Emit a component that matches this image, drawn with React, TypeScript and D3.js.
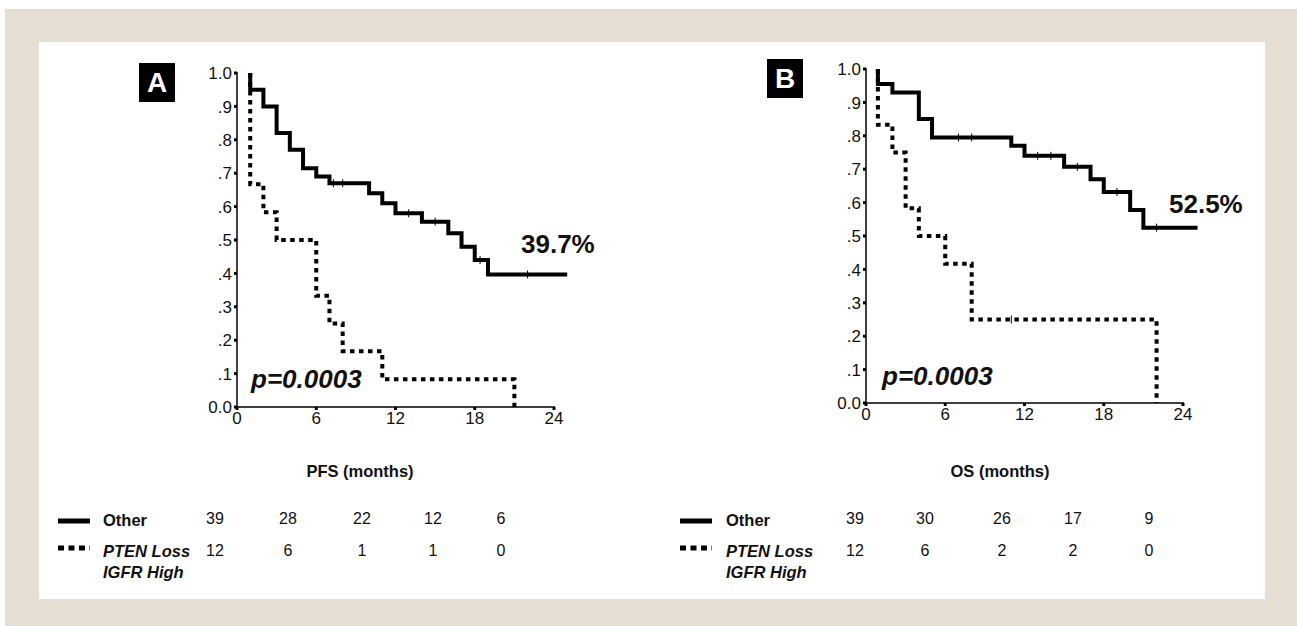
import React from "react";
import * as d3 from "d3";

// ---------- DATA ----------
const yTickValues = [0, 0.1, 0.2, 0.3, 0.4, 0.5, 0.6, 0.7, 0.8, 0.9, 1.0];
const yTickLabels = ["0.0", ".1", ".2", ".3", ".4", ".5", ".6", ".7", ".8", ".9", "1.0"];
const xTickValues = [0, 6, 12, 18, 24];

// Panel A – PFS
const pfsOtherTimes = [1, 1, 2, 3, 4, 5, 6, 7, 10, 11, 12, 14, 16, 17, 18, 19, 25];
const pfsOtherSurv = [1.0, 0.95, 0.9, 0.82, 0.77, 0.715, 0.69, 0.67, 0.64, 0.61, 0.58, 0.555, 0.52, 0.48, 0.44, 0.397, 0.397];
const pfsOtherCensor = [7.3, 8, 13, 15, 18.4, 22];
const pfsPtenTimes = [1, 1, 2, 3, 6, 7, 8, 11, 21, 21];
const pfsPtenSurv = [1.0, 0.667, 0.583, 0.5, 0.333, 0.25, 0.167, 0.083, 0.083, 0];
const pfsPtenCensor: number[] = [];
const pfsRiskOther = ["39", "28", "22", "12", "6"];
const pfsRiskPten = ["12", "6", "1", "1", "0"];

// Panel B – OS
const osOtherTimes = [0.9, 0.9, 2, 4, 5, 11, 12, 15, 17, 18, 20, 21, 25.1];
const osOtherSurv = [1.0, 0.955, 0.93, 0.85, 0.795, 0.77, 0.74, 0.707, 0.67, 0.632, 0.578, 0.525, 0.525];
const osOtherCensor = [7, 8, 13, 14, 16, 19, 22];
const osPtenTimes = [0.9, 0.9, 2, 3, 4, 6, 8, 22, 22];
const osPtenSurv = [1.0, 0.833, 0.75, 0.583, 0.5, 0.417, 0.25, 0.25, 0];
const osPtenCensor = [11];
const osRiskOther = ["39", "30", "26", "17", "9"];
const osRiskPten = ["12", "6", "2", "2", "0"];

const FONT = "'Liberation Sans', Arial, Helvetica, sans-serif";

type PanelProps = {
  letter: string;
  xRange: [number, number];
  yRange: [number, number];
  box: { x: number; y: number };
  otherT: number[];
  otherS: number[];
  otherC: number[];
  ptenT: number[];
  ptenS: number[];
  ptenC: number[];
  pct: string;
  pctPos: { x: number; y: number };
  pPos: { x: number; y: number };
  xLabel: string;
  xLabelX: number;
  riskOther: string[];
  riskPten: string[];
  riskX: number[];
  legendX: number;
  legendTextX: number;
};

function stepValue(t: number[], s: number[], x: number) {
  let v = s[0];
  for (let i = 0; i < t.length; i++) {
    if (t[i] <= x) v = s[i];
  }
  return v;
}

function Panel(p: PanelProps) {
  const x = d3.scaleLinear().domain([0, 24]).range(p.xRange);
  const y = d3.scaleLinear().domain([0, 1]).range(p.yRange);
  const line = d3
    .line<[number, number]>()
    .x((d) => x(d[0]))
    .y((d) => y(d[1]))
    .curve(d3.curveStepAfter);
  const otherPts = p.otherT.map((t, i) => [t, p.otherS[i]] as [number, number]);
  const ptenPts = p.ptenT.map((t, i) => [t, p.ptenS[i]] as [number, number]);
  const y0 = y(0);
  const x0 = x(0);
  return (
    <g>
      {/* letter box */}
      <rect x={p.box.x} y={p.box.y} width={36} height={39} fill="#000" />
      <text x={p.box.x + 18} y={p.box.y + 29} textAnchor="middle" fill="#fff" fontFamily={FONT} fontWeight="bold" fontSize={28}>
        {p.letter}
      </text>
      {/* axes */}
      <line x1={x0} x2={x0} y1={y(1) - 1} y2={y0} stroke="#000" strokeWidth={1.5} />
      <line x1={x0} x2={x(24) + 1} y1={y0} y2={y0} stroke="#000" strokeWidth={1.5} />
      {yTickValues.map((v, i) => (
        <g key={"yt" + i}>
          <rect x={x0 - 3} y={y(v) - 1.5} width={3} height={3} fill="#000" />
          <text x={x0 - 5} y={y(v)} dy="0.36em" textAnchor="end" fontFamily={FONT} fontSize={17} fill="#111">
            {yTickLabels[i]}
          </text>
        </g>
      ))}
      {xTickValues.map((v) => (
        <g key={"xt" + v}>
          <rect x={x(v) - 1.5} y={y0} width={3} height={3} fill="#000" />
          <text x={x(v)} y={y0 + 17} textAnchor="middle" fontFamily={FONT} fontSize={17} fill="#111">
            {v}
          </text>
        </g>
      ))}
      {/* curves */}
      <path d={line(otherPts) || ""} fill="none" stroke="#000" strokeWidth={4} strokeLinejoin="miter" />
      <path d={line(ptenPts) || ""} fill="none" stroke="#000" strokeWidth={4} strokeDasharray="4.5 4.5" />
      {p.otherC.map((c, i) => {
        const yy = y(stepValue(p.otherT, p.otherS, c));
        return <line key={"oc" + i} x1={x(c)} x2={x(c)} y1={yy - 4} y2={yy + 4} stroke="#000" strokeWidth={1} />;
      })}
      {p.ptenC.map((c, i) => {
        const yy = y(stepValue(p.ptenT, p.ptenS, c));
        return <line key={"pc" + i} x1={x(c)} x2={x(c)} y1={yy - 4} y2={yy + 4} stroke="#000" strokeWidth={1} />;
      })}
      {/* annotations */}
      <text x={p.pctPos.x} y={p.pctPos.y} fontFamily={FONT} fontWeight="bold" fontSize={26} fill="#111">
        {p.pct}
      </text>
      <text x={p.pPos.x} y={p.pPos.y} fontFamily={FONT} fontWeight="bold" fontStyle="italic" fontSize={26} fill="#111">
        p=0.0003
      </text>
      <text x={p.xLabelX} y={477} textAnchor="middle" fontFamily={FONT} fontWeight="bold" fontSize={16.5} fill="#111">
        {p.xLabel}
      </text>
      {/* risk table */}
      <line x1={p.legendX} x2={p.legendX + 32} y1={521} y2={521} stroke="#000" strokeWidth={5} />
      <line x1={p.legendX} x2={p.legendX + 32} y1={548} y2={548} stroke="#000" strokeWidth={5} strokeDasharray="6 4.5" />
      <text x={p.legendTextX} y={526} fontFamily={FONT} fontWeight="bold" fontSize={16.5} fill="#111">
        Other
      </text>
      <text x={p.legendTextX} y={557} fontFamily={FONT} fontWeight="bold" fontStyle="italic" fontSize={16.5} fill="#111">
        PTEN Loss
      </text>
      <text x={p.legendTextX} y={578} fontFamily={FONT} fontWeight="bold" fontStyle="italic" fontSize={16.5} fill="#111">
        IGFR High
      </text>
      {p.riskOther.map((r, i) => (
        <text key={"ro" + i} x={p.riskX[i]} y={524} textAnchor="middle" fontFamily={FONT} fontSize={16} fill="#111">
          {r}
        </text>
      ))}
      {p.riskPten.map((r, i) => (
        <text key={"rp" + i} x={p.riskX[i]} y={556} textAnchor="middle" fontFamily={FONT} fontSize={16} fill="#111">
          {r}
        </text>
      ))}
    </g>
  );
}

export default function App() {
  return (
    <svg width={1297} height={626} style={{ position: "absolute", left: 0, top: 0 }}>
      <rect x={0} y={0} width={1297} height={626} fill="#fff" />
      <rect x={5} y={9} width={1292} height={617} fill="#e5dfd3" />
      <rect x={39} y={42} width={1226} height={557} fill="#fff" />
      <Panel
        letter="A"
        xRange={[237, 554]}
        yRange={[407, 73]}
        box={{ x: 139, y: 63 }}
        otherT={pfsOtherTimes}
        otherS={pfsOtherSurv}
        otherC={pfsOtherCensor}
        ptenT={pfsPtenTimes}
        ptenS={pfsPtenSurv}
        ptenC={pfsPtenCensor}
        pct="39.7%"
        pctPos={{ x: 521, y: 253 }}
        pPos={{ x: 251, y: 388 }}
        xLabel="PFS (months)"
        xLabelX={360}
        riskOther={pfsRiskOther}
        riskPten={pfsRiskPten}
        riskX={[215, 288, 362, 433, 501]}
        legendX={58}
        legendTextX={103}
      />
      <Panel
        letter="B"
        xRange={[866, 1183]}
        yRange={[403, 69]}
        box={{ x: 767, y: 59 }}
        otherT={osOtherTimes}
        otherS={osOtherSurv}
        otherC={osOtherCensor}
        ptenT={osPtenTimes}
        ptenS={osPtenSurv}
        ptenC={osPtenCensor}
        pct="52.5%"
        pctPos={{ x: 1169, y: 213 }}
        pPos={{ x: 882, y: 385 }}
        xLabel="OS (months)"
        xLabelX={1000}
        riskOther={osRiskOther}
        riskPten={osRiskPten}
        riskX={[855, 925, 1002, 1073, 1149]}
        legendX={680}
        legendTextX={726}
      />
    </svg>
  );
}
